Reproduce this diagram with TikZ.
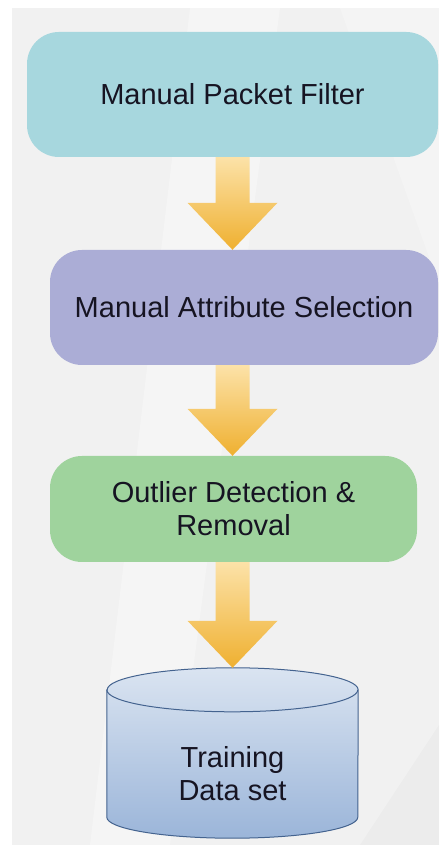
\documentclass[tikz,border=0pt]{standalone}
\usepackage{fontspec}
\setmainfont{Liberation Sans}
\usepackage{tikz}
\usetikzlibrary{calc,positioning}
\definecolor{celeste}{RGB}{167,215,222}
\definecolor{lavanda}{RGB}{171,173,214}
\definecolor{menta}{RGB}{159,211,157}
\definecolor{ambar}{RGB}{239,176,48}
\definecolor{ambarClaro}{RGB}{252,226,168}
\definecolor{azulDatos}{RGB}{155,181,217}
\definecolor{azulClaro}{RGB}{218,228,241}
\definecolor{azulBorde}{RGB}{68,99,143}
\definecolor{grisFondo}{RGB}{241,241,241}
\definecolor{tinta}{RGB}{22,20,34}
\tikzstyle{stage} =[rounded corners=32pt, inner sep=0pt,
                    text=tinta, align=center,
                    font=\fontsize{29}{33}\selectfont]
\tikzstyle{flecha}=[top color=ambarClaro, bottom color=ambar]
\tikzstyle{tambor}=[top color=azulClaro, bottom color=azulDatos,
                    draw=azulBorde, line width=1pt]

\begin{document}
\begin{tikzpicture}[x=1pt,y=1pt]

    % fondo
    \fill[white] (0,0) rectangle (439,845);
    \fill[grisFondo] (12,0) rectangle (439,837);
    \fill[white,opacity=0.3] (190,837) -- (280,837) -- (170,0) -- (90,0) -- cycle;
    \fill[white,opacity=0.25] (340,837) -- (439,837) -- (439,560) -- cycle;
    \fill[black,opacity=0.02] (360,0) -- (439,0) -- (439,120) -- cycle;

    % etapas
    \draw (232.5,750.5) node (1) [stage,fill=celeste,minimum width=411,minimum height=125] {Manual Packet Filter};
    \draw (244,537.5) node (2) [stage,fill=lavanda,minimum width=388,minimum height=115] {Manual Attribute Selection};
    \draw (233.5,336) node (3) [stage,fill=menta,minimum width=367,minimum height=106] {Outlier Detection \&\\Removal};
    \draw (232.5,92) node (4) [minimum width=251,minimum height=170,inner sep=0pt] {};

    % cilindro
    \shade[tambor] ($(4.north west)+(0,-22)$) -- ($(4.south west)+(0,21)$)
        arc[start angle=180,end angle=360,x radius=125.5,y radius=21]
        -- ($(4.north east)+(0,-22)$)
        arc[start angle=0,end angle=180,x radius=125.5,y radius=22] -- cycle;
    \draw[azulBorde,line width=1pt] ($(4.north west)+(0,-22)$)
        arc[start angle=180,end angle=360,x radius=125.5,y radius=22];
    \node (4a) [stage] at ($(4.center)+(0,-20.5)$) {Training\\Data set};

    % flechas
    \coordinate (eje) at (232.5,0);
    \foreach \i/\j in {1/2,2/3,3/4}
        \shade[flecha] ($(\i.south -| eje)+(-17,0)$) -- ($(\j.north -| eje)+(-17,47)$)
            -- ($(\j.north -| eje)+(-45,47)$) -- (\j.north -| eje)
            -- ($(\j.north -| eje)+(45,47)$) -- ($(\j.north -| eje)+(17,47)$)
            -- ($(\i.south -| eje)+(17,0)$) -- cycle;

\end{tikzpicture}
\end{document}
